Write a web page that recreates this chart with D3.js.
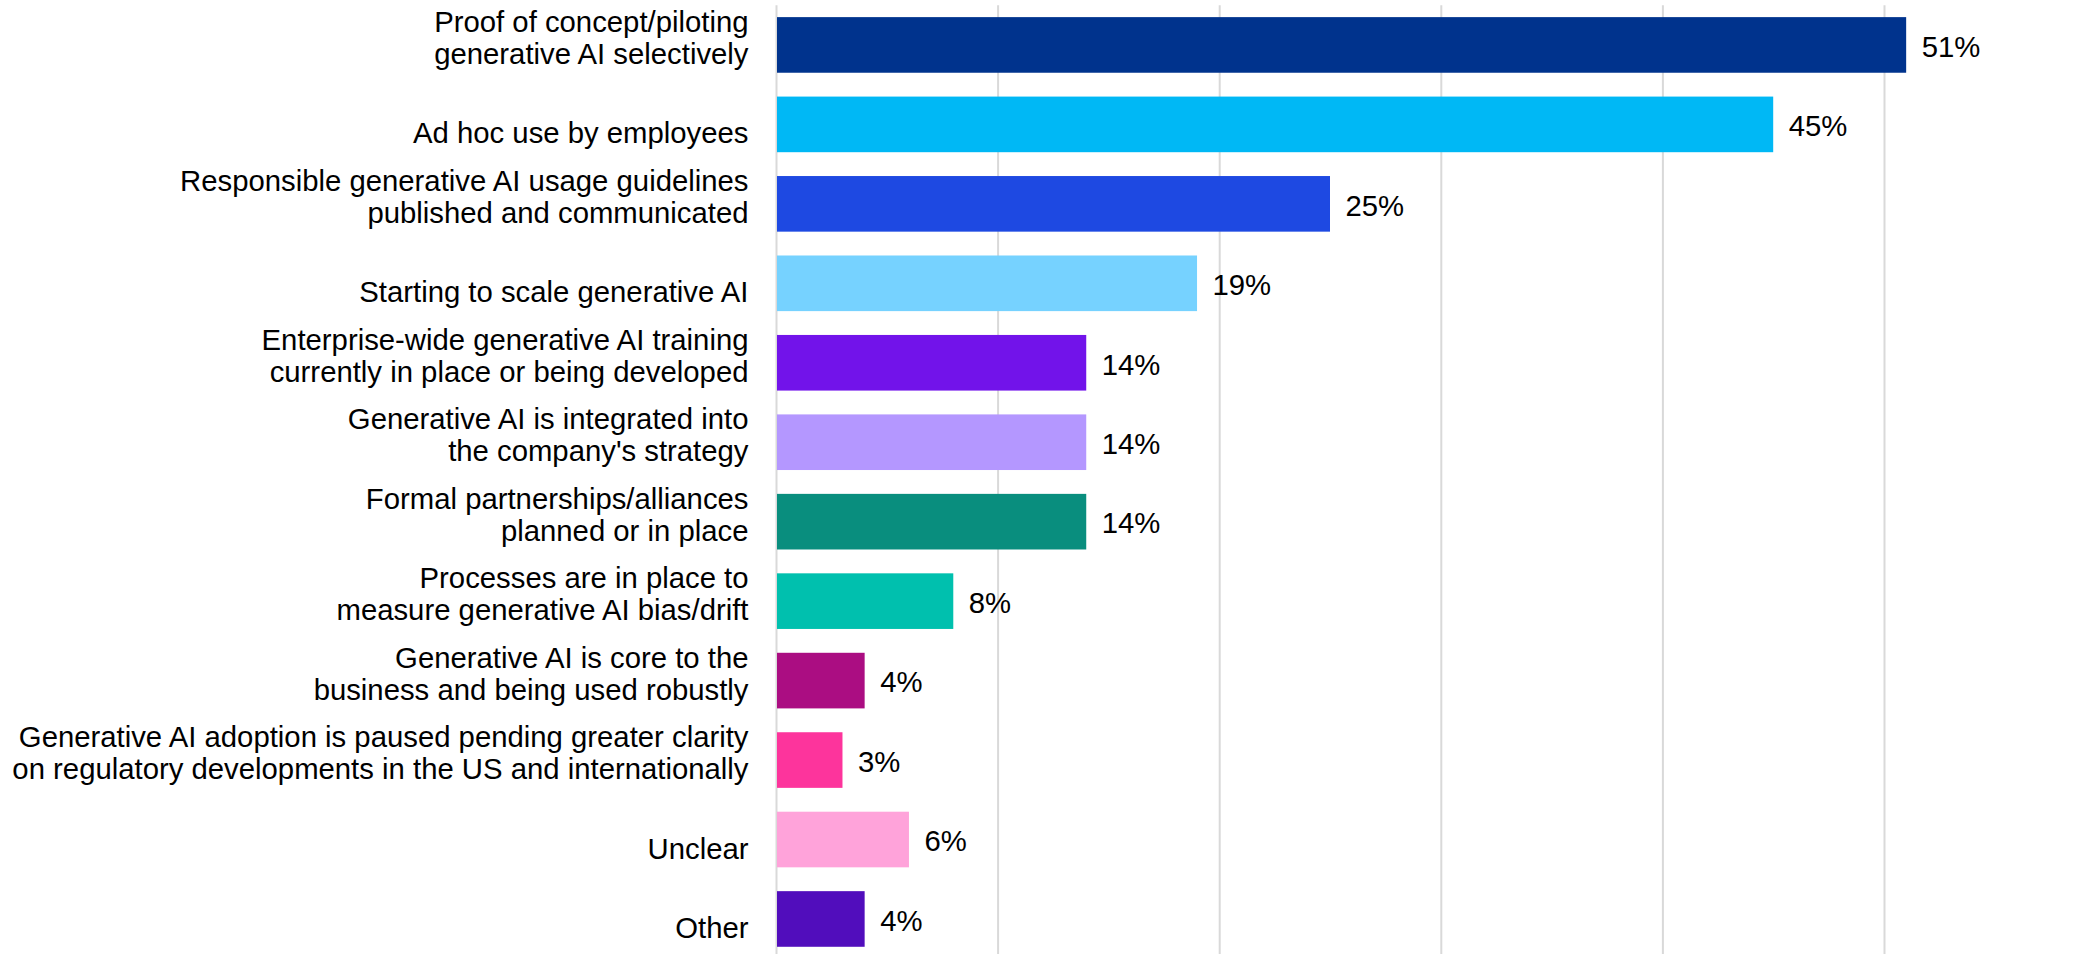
<!DOCTYPE html>
<html>
<head>
<meta charset="utf-8">
<script src="https://cdn.jsdelivr.net/npm/d3@7"></script>
<style>
  html, body { margin: 0; padding: 0; background: #fff; }
  svg { display: block; font-family: "Liberation Sans", Arial, sans-serif; }
  .cat-label, .val-label { font-size: 29.3px; fill: #000; }
</style>
</head>
<body>
<div id="chart"></div>
<script>
const categories = [
  ["Proof of concept/piloting", "generative AI selectively"],
  ["Ad hoc use by employees"],
  ["Responsible generative AI usage guidelines", "published and communicated"],
  ["Starting to scale generative AI"],
  ["Enterprise-wide generative AI training", "currently in place or being developed"],
  ["Generative AI is integrated into", "the company's strategy"],
  ["Formal partnerships/alliances", "planned or in place"],
  ["Processes are in place to", "measure generative AI bias/drift"],
  ["Generative AI is core to the", "business and being used robustly"],
  ["Generative AI adoption is paused pending greater clarity", "on regulatory developments in the US and internationally"],
  ["Unclear"],
  ["Other"]
];
const values = [51, 45, 25, 19, 14, 14, 14, 8, 4, 3, 6, 4];
const barColors = [
  "#00338D", "#00B8F5", "#1E49E2", "#76D2FF", "#7213EA", "#B497FF",
  "#098E7E", "#00C0AE", "#AB0D82", "#FD349C", "#FFA3DA", "#510DBC"
];
const gridTicks = [0, 10, 20, 30, 40, 50];

const width = 2099, height = 954;
const plot = { left: 776, right: 2105.6, top: 5.2, bottom: 958.7 };
const lineGap = 32;

const ids = categories.map((_, i) => i);

const x = d3.scaleLinear()
  .domain([0, 60])
  .range([plot.left, plot.right]);

const y = d3.scaleBand()
  .domain(ids)
  .range([plot.top, plot.bottom])
  .paddingInner(0.3)
  .paddingOuter(0.15);

const svg = d3.select("#chart").append("svg")
  .attr("width", width)
  .attr("height", height);

// gridlines (no tick labels in the original)
svg.append("g")
  .attr("transform", `translate(0,${plot.top})`)
  .call(d3.axisBottom(x).tickValues(gridTicks).tickSize(height - plot.top).tickFormat(""))
  .call(g => g.select(".domain").remove())
  .call(g => g.selectAll(".tick line").attr("stroke", "#d9d9d9").attr("stroke-width", 2));

svg.append("g")
  .selectAll("rect")
  .data(ids)
  .join("rect")
  .attr("x", x(0) + 1)
  .attr("y", (i) => y(i))
  .attr("width", (i) => x(values[i]) - x(0) - 1)
  .attr("height", y.bandwidth())
  .attr("fill", (i) => barColors[i]);

// category labels, bottom-aligned to the bar like the source
const labels = svg.append("g")
  .selectAll("text")
  .data(ids)
  .join("text")
  .attr("class", "cat-label")
  .attr("text-anchor", "end");

labels.each(function(i) {
  const lines = categories[i];
  const lastBase = y(i) + y.bandwidth() - 8.7;
  d3.select(this).selectAll("tspan")
    .data(lines)
    .join("tspan")
    .attr("x", plot.left - 27.5)
    .attr("y", (_, k) => lastBase - (lines.length - 1 - k) * lineGap)
    .text((d) => d);
});

svg.append("g")
  .selectAll("text")
  .data(ids)
  .join("text")
  .attr("class", "val-label")
  .attr("x", (i) => x(values[i]) + 15.5)
  .attr("y", (i) => y(i) + y.bandwidth() / 2 + 11.8)
  .text((i) => `${values[i]}%`);
</script>
</body>
</html>
